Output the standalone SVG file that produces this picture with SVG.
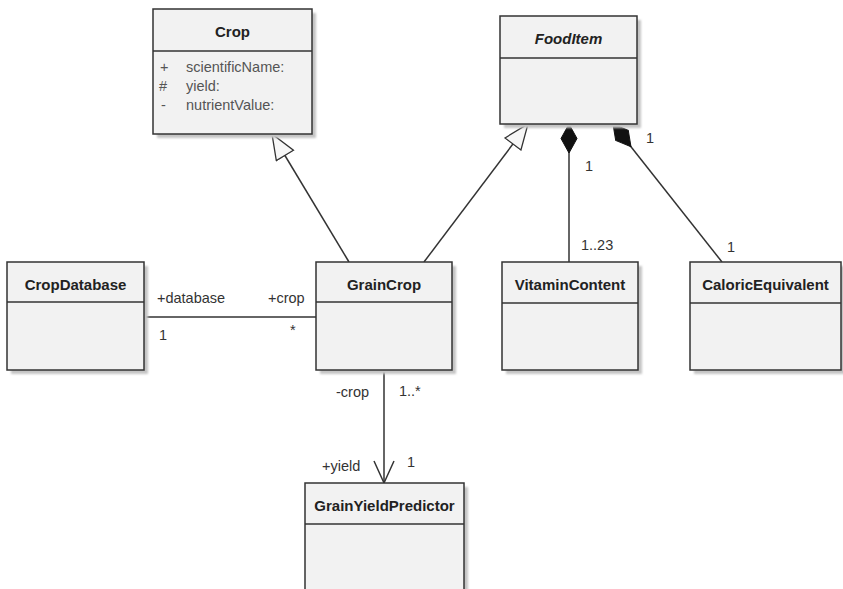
<svg xmlns="http://www.w3.org/2000/svg" width="843" height="589" viewBox="0 0 843 589">
<style>
.box{fill:#f2f2f2;stroke:#333;stroke-width:1.5}
.sh{fill:#c4c4c4}
.div{stroke:#333;stroke-width:1.5}
.t{font-family:"Liberation Sans",Arial,sans-serif;font-size:15px;font-weight:bold;fill:#222;text-anchor:middle}
.a{font-family:"Liberation Sans",Arial,sans-serif;font-size:14.5px;fill:#555}
.l{font-family:"Liberation Sans",Arial,sans-serif;font-size:14.5px;fill:#333}
.c{stroke:#333;stroke-width:1.5;fill:none}
</style>
<defs>
<filter id="blur" x="-10%" y="-10%" width="120%" height="120%"><feGaussianBlur stdDeviation="1.2"/></filter>
<marker id="tri" viewBox="0 0 27 22" refX="26" refY="11" markerWidth="27" markerHeight="22" markerUnits="userSpaceOnUse" orient="auto">
<path d="M1,1 L26,11 L1,21 Z" fill="#f7f7f7" stroke="#333" stroke-width="1.3"/>
</marker>
<marker id="dia" viewBox="0 0 30 18" refX="0.5" refY="9" markerWidth="30" markerHeight="18" markerUnits="userSpaceOnUse" orient="auto">
<path d="M0.5,9 L15,1 L29.5,9 L15,17 Z" fill="#111" stroke="#111" stroke-width="1"/>
</marker>
<marker id="open" viewBox="0 0 25 24" refX="23" refY="12" markerWidth="25" markerHeight="24" markerUnits="userSpaceOnUse" orient="auto">
<path d="M1,2 L23,12 L1,22" fill="none" stroke="#333" stroke-width="1.5"/>
</marker>
</defs>

<g id="connectors">
<line class="c" x1="349" y1="262" x2="272" y2="134" marker-end="url(#tri)"/>
<line class="c" x1="424" y1="262" x2="528" y2="124" marker-end="url(#tri)"/>
<line class="c" x1="569" y1="124" x2="569" y2="262" marker-start="url(#dia)"/>
<line class="c" x1="613" y1="124" x2="722" y2="262" marker-start="url(#dia)"/>
<line class="c" x1="144" y1="317" x2="316" y2="317"/>
<line class="c" x1="384" y1="370" x2="384" y2="483" marker-end="url(#open)"/>
<text class="l" x="157" y="303">+database</text>
<text class="l" x="268" y="303">+crop</text>
<text class="l" x="159" y="340">1</text>
<text class="l" x="290" y="335">*</text>
<text class="l" x="585" y="171">1</text>
<text class="l" x="581" y="250">1..23</text>
<text class="l" x="646" y="143">1</text>
<text class="l" x="727" y="252">1</text>
<text class="l" x="336" y="397">-crop</text>
<text class="l" x="399" y="396">1..*</text>
<text class="l" x="322" y="471">+yield</text>
<text class="l" x="407" y="467">1</text>
</g>

<g id="Crop">
<rect class="sh" x="157" y="13" width="159" height="125" filter="url(#blur)"/>
<rect class="box" x="153" y="9" width="159" height="125"/>
<line class="div" x1="153" y1="51" x2="312" y2="51"/>
<text class="t" x="232.5" y="37">Crop</text>
<text class="a" x="160" y="72">+</text>
<text class="a" x="186" y="72">scientificName:</text>
<text class="a" x="159" y="91">#</text>
<text class="a" x="186" y="91">yield:</text>
<text class="a" x="161" y="110">-</text>
<text class="a" x="186" y="110">nutrientValue:</text>
</g>

<g id="FoodItem">
<rect class="sh" x="504" y="20" width="137" height="108" filter="url(#blur)"/>
<rect class="box" x="500" y="16" width="137" height="108"/>
<line class="div" x1="500" y1="58" x2="637" y2="58"/>
<text class="t" x="568.5" y="44" font-style="italic">FoodItem</text>
</g>

<g id="CropDatabase">
<rect class="sh" x="11" y="266" width="137" height="108" filter="url(#blur)"/>
<rect class="box" x="7" y="262" width="137" height="108"/>
<line class="div" x1="7" y1="302" x2="144" y2="302"/>
<text class="t" x="75.5" y="290">CropDatabase</text>
</g>

<g id="GrainCrop">
<rect class="sh" x="320" y="266" width="136" height="108" filter="url(#blur)"/>
<rect class="box" x="316" y="262" width="136" height="108"/>
<line class="div" x1="316" y1="302" x2="452" y2="302"/>
<text class="t" x="384" y="290">GrainCrop</text>
</g>

<g id="VitaminContent">
<rect class="sh" x="506" y="266" width="136" height="108" filter="url(#blur)"/>
<rect class="box" x="502" y="262" width="136" height="108"/>
<line class="div" x1="502" y1="303" x2="638" y2="303"/>
<text class="t" x="570" y="290">VitaminContent</text>
</g>

<g id="CaloricEquivalent">
<rect class="sh" x="694" y="266" width="151" height="108" filter="url(#blur)"/>
<rect class="box" x="690" y="262" width="151" height="108"/>
<line class="div" x1="690" y1="303" x2="841" y2="303"/>
<text class="t" x="765.5" y="290">CaloricEquivalent</text>
</g>

<g id="GrainYieldPredictor">
<rect class="sh" x="309" y="487" width="159" height="120" filter="url(#blur)"/>
<rect class="box" x="305" y="483" width="159" height="120"/>
<line class="div" x1="305" y1="524" x2="464" y2="524"/>
<text class="t" x="384.5" y="511">GrainYieldPredictor</text>
</g>
</svg>
